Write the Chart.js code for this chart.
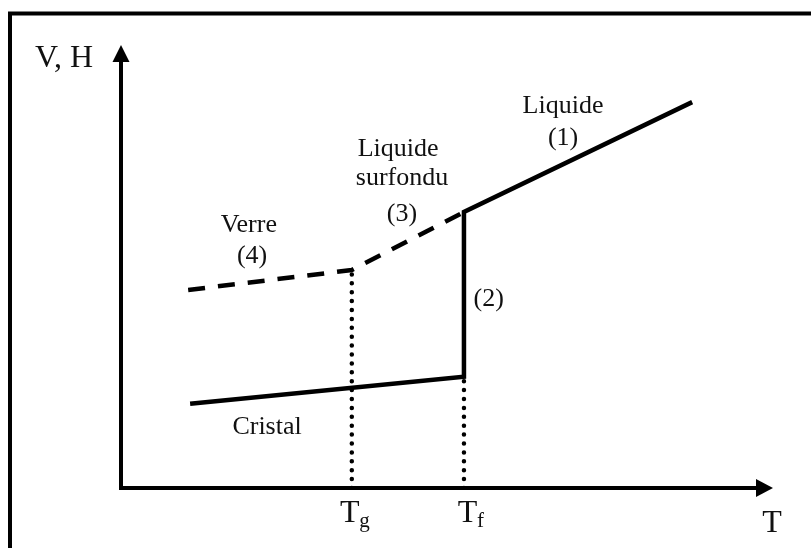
<!DOCTYPE html>
<html>
<head>
<meta charset="utf-8">
<script src="https://cdn.jsdelivr.net/npm/chart.js@4"></script>
<style>
  html, body { margin: 0; padding: 0; background: #ffffff; }
  canvas { display: block; }
</style>
</head>
<body>
<canvas id="c" width="811" height="548"></canvas>
<script>
// ---- Data (arbitrary units: T on x, V/H on y, axes from 0 to 100) ----
const Tg = 35.4;            // glass transition temperature
const Tf = 52.6;            // melting temperature
// solid path: cristal -> fusion jump (2) -> liquide (1)
const T_solid = [10.6, Tf, Tf, 87.6];
const V_solid = [19.0, 25.1, 62.3, 87.1];
// dashed path: verre (4) -> liquide surfondu (3)
const T_dashed = [10.3, Tg, Tf];
const V_dashed = [44.7, 49.2, 62.3];
// dotted drop lines
const T_dropTg = [Tg, Tg];
const V_dropTg = [0, 49.2];
const T_dropTf = [Tf, Tf];
const V_dropTf = [0, 25.1];
// texts
const axisY = "V, H";
const axisX = "T";
const tickLabels = [["T", "g"], ["T", "f"]];

const pts = (xs, ys) => xs.map((x, i) => ({ x: x, y: ys[i] }));

const SERIF = '"Liberation Serif", "Times New Roman", serif';

const deco = {
  id: 'deco',
  afterDraw(chart) {
    const ctx = chart.ctx;
    const xs = chart.scales.x, ys = chart.scales.y;
    const x0 = xs.getPixelForValue(0), y0 = ys.getPixelForValue(0);
    const xEnd = xs.getPixelForValue(100), yEnd = ys.getPixelForValue(100);
    ctx.save();
    ctx.fillStyle = '#000';
    ctx.strokeStyle = '#000';
    // frame (left + top)
    ctx.lineWidth = 4;
    ctx.beginPath();
    ctx.moveTo(10, 560);
    ctx.lineTo(10, 13.5);
    ctx.lineTo(820, 13.5);
    ctx.stroke();
    // axes
    ctx.lineWidth = 4;
    ctx.lineCap = 'butt';
    ctx.beginPath();
    ctx.moveTo(x0, y0 + 2);
    ctx.lineTo(x0, yEnd + 15);
    ctx.moveTo(x0 - 2, y0);
    ctx.lineTo(xEnd - 15, y0);
    ctx.stroke();
    // arrow heads
    ctx.beginPath();
    ctx.moveTo(x0, yEnd);
    ctx.lineTo(x0 - 8.5, yEnd + 17);
    ctx.lineTo(x0 + 8.5, yEnd + 17);
    ctx.closePath();
    ctx.fill();
    ctx.beginPath();
    ctx.moveTo(xEnd, y0);
    ctx.lineTo(xEnd - 17, y0 - 9);
    ctx.lineTo(xEnd - 17, y0 + 9);
    ctx.closePath();
    ctx.fill();

    // axis titles
    ctx.fillStyle = '#111';
    ctx.textBaseline = 'alphabetic';
    ctx.font = '32px ' + SERIF;
    ctx.textAlign = 'left';
    ctx.fillText(axisY, 35, 67);
    ctx.textAlign = 'center';
    ctx.fillText(axisX, xEnd - 1, 532);

    // tick labels with subscripts
    const tickPos = [[xs.getPixelForValue(Tg) - 2, 522], [xs.getPixelForValue(Tf) + 3.5, 522]];
    tickLabels.forEach((lab, i) => {
      const [cx, by] = tickPos[i];
      ctx.font = '32px ' + SERIF;
      ctx.textAlign = 'center';
      ctx.fillText(lab[0], cx, by);
      ctx.font = '21px ' + SERIF;
      ctx.textAlign = 'left';
      ctx.fillText(lab[1], cx + 9.5, by + 5);
    });

    // annotations (positions in data units)
    ctx.font = '26px ' + SERIF;
    ctx.textAlign = 'center';
    const notes = [
      ["Liquide", 67.8, 84.7], ["(1)", 67.8, 77.4],
      ["Liquide", 42.5, 74.9], ["surfondu", 43.1, 68.4], ["(3)", 43.1, 60.3],
      ["Verre", 19.6, 57.8], ["(4)", 20.1, 50.8],
      ["(2)", 56.4, 41.1],
      ["Cristal", 22.4, 12.2]
    ];
    notes.forEach(([t, x, y]) => {
      ctx.fillText(t, xs.getPixelForValue(x), ys.getPixelForValue(y));
    });
    ctx.restore();
  }
};

new Chart(document.getElementById('c'), {
  type: 'scatter',
  data: {
    datasets: [
      { data: pts(T_solid, V_solid), showLine: true, borderColor: '#000', borderWidth: 4.5,
        pointRadius: 0, borderJoinStyle: 'miter', tension: 0 },
      { data: pts(T_dashed, V_dashed), showLine: true, borderColor: '#000', borderWidth: 4.5,
        borderDash: [17, 13], pointRadius: 0, tension: 0 },
      { data: pts(T_dropTg, V_dropTg), showLine: true, borderColor: '#000', borderWidth: 4.5,
        borderDash: [0, 8.9], borderCapStyle: 'round', pointRadius: 0 },
      { data: pts(T_dropTf, V_dropTf), showLine: true, borderColor: '#000', borderWidth: 4.5,
        borderDash: [0, 8.9], borderCapStyle: 'round', pointRadius: 0 }
    ]
  },
  options: {
    responsive: false,
    animation: false,
    layout: { padding: { left: 121, right: 38, top: 45, bottom: 60 } },
    plugins: { legend: { display: false }, tooltip: { enabled: false } },
    scales: {
      x: { type: 'linear', min: 0, max: 100, display: false },
      y: { type: 'linear', min: 0, max: 100, display: false }
    }
  },
  plugins: [deco]
});
</script>
</body>
</html>
